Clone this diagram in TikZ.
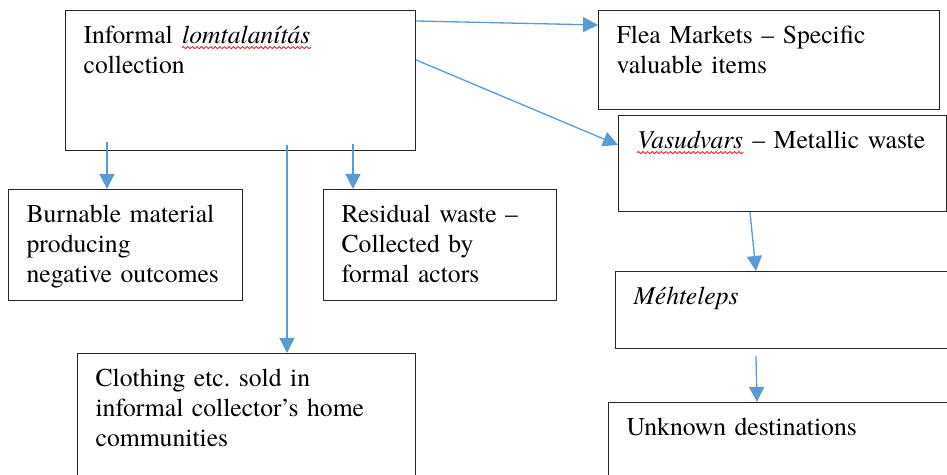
\documentclass[tikz,border=0pt]{standalone}
\usepackage{fontspec}
\setmainfont{texgyretermes}[Extension=.otf, Ligatures=TeX,
    UprightFont=*-regular, ItalicFont=*-italic,
    BoldFont=*-bold, BoldItalicFont=*-bolditalic]
\usetikzlibrary{arrows.meta, decorations.pathmorphing}
\definecolor{flowblue}{HTML}{5B9BD5}
\definecolor{boxline}{HTML}{262626}
\definecolor{spellred}{HTML}{E3262D}
\tikzset{
    stage/.style={rectangle, draw=boxline, line width=0.7pt,
        anchor=north west, inner xsep=0.36cm, inner ysep=0pt,
        align=left, text height=0.66cm,
        font=\rmfamily\fontsize{14.6}{17.1}\selectfont},
    arr/.style={-{Triangle[length=0.3cm, width=0.3cm]},
        line width=0.75pt, color=flowblue},
    squig/.style={draw=spellred, line width=0.5pt, decorate,
        decoration={snake, amplitude=0.6pt, segment length=2.6pt}},
}
% wavy spell-check mark under a word
\newcommand{\spellmark}[1]{\tikz[baseline=(sw.base)]{%
    \node[inner sep=0pt, text width=, text height=, text depth=,
          anchor=base] (sw) {#1};
    \draw[squig] ([yshift=-0.08cm]sw.base west) --
        ([yshift=-0.08cm]sw.base east);}}

\begin{document}
\begin{tikzpicture}[x=0.02cm, y=-0.02cm]

\useasboundingbox (0,0) rectangle (947,475);
\clip (0,0) rectangle (947,475);

% ================================================================
%  SOURCE
% ================================================================

\node[stage, text width=6.28cm, text depth=2.14cm] (informal) at (65,10)
    {Informal \spellmark{\textit{lomtalanítás}}\\collection};

% ================================================================
%  LEFT BRANCHES
% ================================================================

\node[stage, text width=3.96cm, text depth=1.56cm] (burn) at (8,189)
    {Burnable material\\producing\\negative outcomes};
\node[stage, text width=3.94cm, text depth=1.56cm] (resid) at (323,189)
    {Residual waste --\\Collected by\\formal actors};
\node[stage, text width=6.04cm, text depth=1.94cm] (cloth) at (77,353)
    {Clothing etc.\ sold in\\informal collector’s home\\communities};

% ================================================================
%  RIGHT BRANCHES
% ================================================================

\node[stage, text width=6.10cm, text depth=1.32cm] (flea) at (598,10)
    {Flea Markets -- Specific\\valuable items};
\node[stage, text width=5.84cm, text depth=1.26cm] (vasud) at (618,115)
    {\spellmark{\textit{Vasudvars}} -- Metallic waste};
\node[stage, text width=6.18cm, text depth=0.88cm] (meh) at (615,271)
    {\textit{Méhteleps}};
\node[stage, text width=6.32cm, text depth=1.14cm] (unknown) at (608,402)
    {Unknown destinations};

% ================================================================
%  CONNECTORS
% ================================================================

% Drops out of the source box
\coordinate (dropburn)  at (107,142);
\coordinate (dropcloth) at (287,145);
\coordinate (dropresid) at (353,144);

\draw[arr] (dropburn)  -- (dropburn |- burn.north);
\draw[arr] (dropcloth) -- (dropcloth |- cloth.north);
\draw[arr] (dropresid) -- (dropresid |- resid.north);

% To the right column
\draw[arr] ([yshift=-0.22cm]informal.north east) --
    ([yshift=-0.3cm]flea.north west);
\draw[arr] ([yshift=-1.0cm]informal.north east) --
    ([yshift=-0.6cm]vasud.north west);

% Metal chain
\draw[arr] ([xshift=2.64cm]vasud.south west) --
    ([xshift=2.82cm]meh.north west);
\draw[arr] ([xshift=2.82cm, yshift=-0.14cm]meh.south west) --
    ([xshift=2.98cm]unknown.north west);

\end{tikzpicture}
\end{document}
